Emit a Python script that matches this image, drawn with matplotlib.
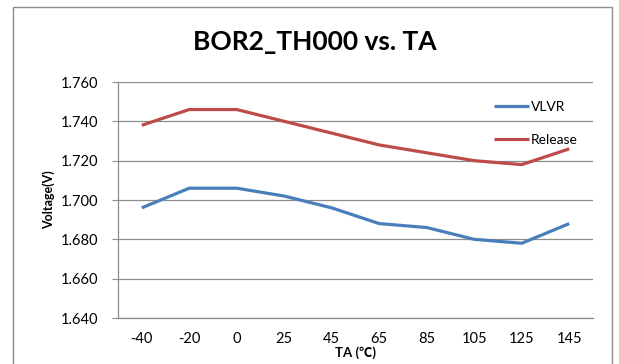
import matplotlib
matplotlib.use('Agg')
from matplotlib import pyplot as plt
from matplotlib.patches import Rectangle

ta = ['-40', '-20', '0', '25', '45', '65', '85', '105', '125', '145']
vlvr = [1.696, 1.706, 1.706, 1.702, 1.696, 1.688, 1.686, 1.680, 1.678, 1.688]
release = [1.738, 1.746, 1.746, 1.740, 1.734, 1.728, 1.724, 1.720, 1.718, 1.726]
yticks = [1.640, 1.660, 1.680, 1.700, 1.720, 1.740, 1.760]

plt.rcParams['font.family'] = ['Lato', 'Noto Sans CJK SC', 'DejaVu Sans']

fig = plt.figure(figsize=(6.19, 3.64), dpi=100)
ax = fig.add_axes([118 / 619, 1 - 318 / 364, 475 / 619, 236 / 364])

# outer chart-area border
fig.patches.append(Rectangle((13 / 619, -0.1), 599 / 619, 1.1 - 7 / 364,
                             transform=fig.transFigure, fill=False,
                             edgecolor='#8c8c8c', lw=1.0))

x = range(len(ta))
ax.plot(x, vlvr, color='#4a7ebb', lw=2.3, label='VLVR', solid_capstyle='butt')
ax.plot(x, release, color='#be4b48', lw=2.3, label='Release', solid_capstyle='butt')

ax.set_xlim(-0.5, len(ta) - 0.5)
ax.set_ylim(1.640, 1.760)
ax.set_xticks(list(x))
ax.set_xticklabels(ta)
ax.set_yticks(yticks)
ax.set_yticklabels([f'{v:.3f}' for v in yticks])
ax.grid(axis='y', color='#8c8c8c', lw=0.9)
ax.set_axisbelow(True)

for s in ['top', 'right']:
    ax.spines[s].set_visible(False)
ax.spines['left'].set_color('#8c8c8c')
ax.spines['bottom'].set_color('#8c8c8c')
ax.spines['left'].set_linewidth(0.9)
ax.spines['bottom'].set_linewidth(0.9)
ax.tick_params(axis='y', length=4, color='#8c8c8c', labelsize=10.5, pad=10)
ax.tick_params(axis='x', length=0, labelsize=10.5, pad=10)

ax.set_xlabel('TA (℃)', fontsize=9.5, fontweight='bold', labelpad=0)
ax.set_ylabel('Voltage(V)', fontsize=9, fontweight='bold', labelpad=4)
fig.text(315 / 619, 1 - 42 / 364, 'BOR2_TH000 vs. TA', fontsize=19,
         fontweight='bold', ha='center', va='center')

ax.legend(loc='upper left', bbox_to_anchor=((494 - 118) / 475, (318 - 101) / 236),
          frameon=False, handlelength=2.5, handletextpad=0.15,
          labelspacing=1.5, fontsize=10, borderaxespad=0, borderpad=0)

fig.savefig('out.png', dpi=100)
